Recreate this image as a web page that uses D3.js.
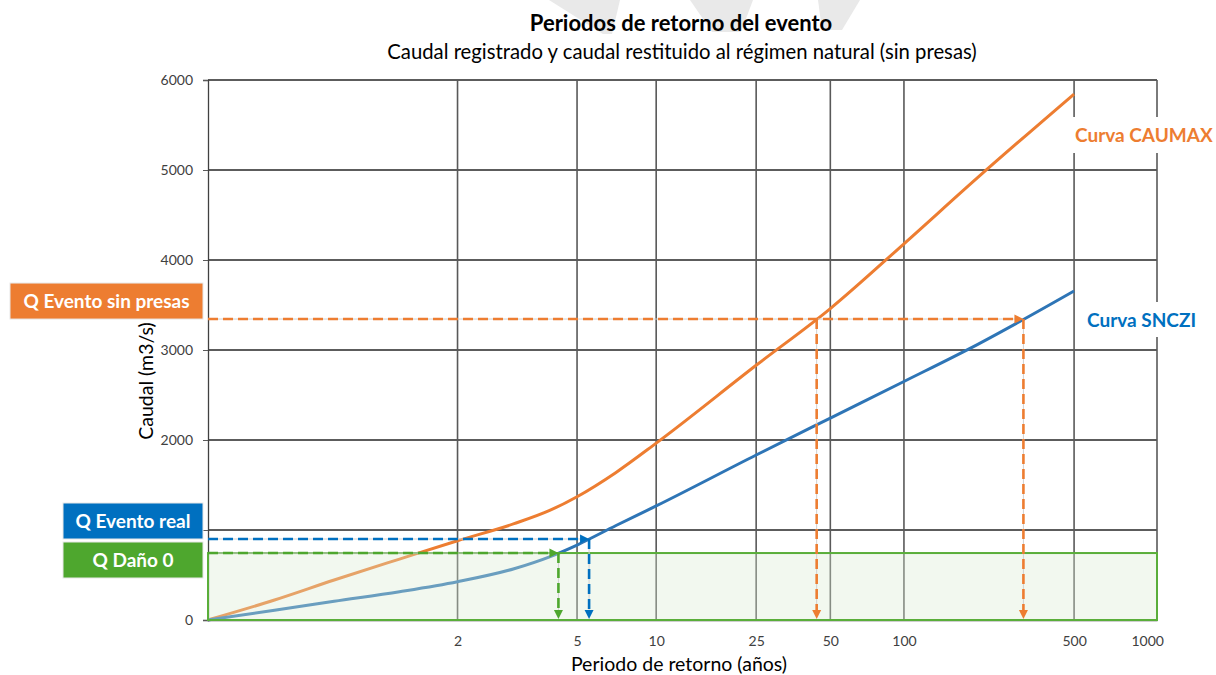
<!DOCTYPE html>
<html>
<head>
<meta charset="utf-8">
<script src="https://cdn.jsdelivr.net/npm/d3@7"></script>
<style>
  body { margin: 0; background: #fff; }
  svg { display: block; }
  text { font-family: Lato, "Open Sans", "Noto Sans", sans-serif; }
</style>
</head>
<body>
<svg id="chart" width="1216" height="675"></svg>
<script>
// Return periods (years) at which both flood-frequency curves are sampled
const returnPeriods = [1.0006, 1.02, 1.12, 1.43, 2, 3, 4, 5, 7, 10, 25, 50, 100, 200, 500];
// Peak flow (m3/s) – CAUMAX curve
const caumaxFlows = [0, 222, 444, 677, 881, 1070, 1220, 1370, 1640, 1965, 2830, 3460, 4180, 4912, 5844];
// Peak flow (m3/s) – SNCZI curve
const snczFlows = [0, 108, 208, 315, 426, 570, 705, 833, 1050, 1267, 1833, 2244, 2650, 3060, 3656];

// Axis ticks
const xTickValues = [2, 5, 10, 25, 50, 100, 500, 1000];
const xGridValues = [2, 5, 10, 25, 50, 100, 500];
const yTickValues = [0, 1000, 2000, 3000, 4000, 5000, 6000];

// Reference flows, and which curves each one is read against (0 = CAUMAX, 1 = SNCZI)
const markerLabels = ["Q Evento sin presas", "Q Evento real", "Q Daño 0"];
const markerFlows = [3344, 900, 744];
const markerCurves = [[0, 1], [1], [1]];
const markerColors = ["#ed7d31", "#0070c0", "#4ea72e"];

const curveNames = ["Curva CAUMAX", "Curva SNCZI"];
const curveColors = ["#ed7d31", "#2e75b6"];
const curveLabelColors = ["#ed7d31", "#0070c0"];

// Gumbel reduced variate: probability paper for annual maxima
const gumbel = T => -Math.log(-Math.log(1 - 1 / T));

const svg = d3.select("#chart");
const plotLeft = 208, plotRight = 1157, plotTop = 80, plotBottom = 620;

const x = d3.scaleLinear().domain([-2, 7]).range([plotLeft, plotRight]);
const y = d3.scaleLinear().domain([0, 6000]).range([plotBottom, plotTop]);
const xT = T => x(gumbel(T));

const curves = [caumaxFlows, snczFlows].map(flows =>
  returnPeriods.map((T, k) => [gumbel(T), flows[k]]));

// Reduced variate at which a curve reaches flow q (linear between samples)
function crossing(curve, q) {
  for (let k = 1; k < curve.length; k++) {
    const [g0, q0] = curve[k - 1], [g1, q1] = curve[k];
    if (q >= q0 && q <= q1) return g0 + (q - q0) / (q1 - q0) * (g1 - g0);
  }
  return curve[curve.length - 1][0];
}

// faint watermark strokes along the top edge
const wm = svg.append("g").attr("fill", "#e9e9e9");
wm.append("path").attr("d", "M549,0 L620,0 L612,34 L603,34 Z");
wm.append("path").attr("d", "M690,0 L753,0 L741,32 L712,32 Z");
wm.append("path").attr("d", "M818,0 L860,0 L842,30 L822,30 Z");

// Titles
svg.append("text").attr("x", 681).attr("y", 31).attr("text-anchor", "middle")
  .attr("font-size", 22).attr("font-weight", "bold").attr("fill", "#000")
  .text("Periodos de retorno del evento");
svg.append("text").attr("x", 682).attr("y", 59).attr("text-anchor", "middle")
  .attr("font-size", 20.3).attr("fill", "#000")
  .text("Caudal registrado y caudal restituido al régimen natural (sin presas)");

// Grid
const grid = svg.append("g");
grid.selectAll(".hg").data(yTickValues.filter(d => d > 0)).join("line")
  .attr("x1", plotLeft).attr("x2", plotRight)
  .attr("y1", d => y(d)).attr("y2", d => y(d))
  .attr("stroke", "#262626").attr("stroke-width", 1.3);
grid.selectAll(".vg").data(xGridValues).join("line")
  .attr("x1", d => xT(d)).attr("x2", d => xT(d))
  .attr("y1", plotTop).attr("y2", plotBottom)
  .attr("stroke", "#595959").attr("stroke-width", 1.6);
grid.append("line").attr("x1", plotRight).attr("x2", plotRight).attr("y1", plotTop).attr("y2", plotBottom)
  .attr("stroke", "#595959").attr("stroke-width", 1.6);

// Y axis (the 1000 label sits under the "Q Evento real" box, so it is left blank)
const yAxis = d3.axisLeft(y).tickValues(yTickValues).tickSize(5).tickPadding(10)
  .tickFormat(d => d === 1000 ? "" : d3.format("d")(d));
const yg = svg.append("g").attr("transform", `translate(${plotLeft},0)`).call(yAxis);
yg.select(".domain").attr("stroke", "#404040").attr("stroke-width", 1.3);
yg.selectAll(".tick line").attr("stroke", "#595959");
yg.selectAll(".tick text").attr("font-size", 14).attr("fill", "#404040")
  .attr("font-family", "Lato, 'Open Sans', sans-serif");

// X axis
const xAxis = d3.axisBottom(x).tickValues(xTickValues.map(gumbel)).tickSize(0).tickPadding(16)
  .tickFormat((d, i) => xTickValues[i]);
const xg = svg.append("g").attr("transform", `translate(0,${plotBottom})`).call(xAxis);
xg.select(".domain").attr("stroke", "#404040").attr("stroke-width", 1.3);
xg.selectAll(".tick text").attr("font-size", 14).attr("fill", "#404040")
  .attr("font-family", "Lato, 'Open Sans', sans-serif");

// Axis titles
svg.append("text").attr("transform", "translate(153,381) rotate(-90)")
  .attr("text-anchor", "middle").attr("font-size", 19.5).attr("fill", "#000")
  .text("Caudal (m3/s)");
svg.append("text").attr("x", 679).attr("y", 671).attr("text-anchor", "middle")
  .attr("font-size", 19.5).attr("fill", "#000")
  .text("Periodo de retorno (años)");

// Curves
const line = d3.line().x(d => x(d[0])).y(d => y(d[1])).curve(d3.curveMonotoneX);
curves.forEach((c, i) => {
  svg.append("path").datum(c)
    .attr("d", line).attr("fill", "none")
    .attr("stroke", curveColors[i]).attr("stroke-width", 3)
    .attr("stroke-linejoin", "round");
});

// Zero-damage band
svg.append("rect").attr("x", plotLeft).attr("y", y(markerFlows[2]))
  .attr("width", plotRight - plotLeft).attr("height", plotBottom - y(markerFlows[2]))
  .attr("fill", "#d9ecd0").attr("fill-opacity", 0.35)
  .attr("stroke", "#5aae3a").attr("stroke-width", 2);

// Dashed arrow helpers
function dashed(x1, y1, x2, y2, color) {
  svg.append("line").attr("x1", x1).attr("y1", y1).attr("x2", x2).attr("y2", y2)
    .attr("stroke", "#d0d0d0").attr("stroke-width", 1);
  svg.append("line").attr("x1", x1).attr("y1", y1).attr("x2", x2).attr("y2", y2)
    .attr("stroke", color).attr("stroke-width", 2.6).attr("stroke-dasharray", "10,5");
}
function arrowHead(px, py, dir, color) {
  const L = 9, W = 4.5;
  let d;
  if (dir === "right") d = `M${px},${py} L${px - L},${py - W} L${px - L},${py + W} Z`;
  else d = `M${px},${py} L${px - W},${py - L} L${px + W},${py - L} Z`;
  svg.append("path").attr("d", d).attr("fill", color);
}

markerFlows.forEach((q, i) => {
  const yy = y(q);
  const xs = markerCurves[i].map(c => x(crossing(curves[c], q)));
  const xEnd = d3.max(xs);
  const color = markerColors[i];
  dashed(plotLeft, yy, xEnd - 6, yy, color);
  arrowHead(xEnd, yy, "right", color);
  xs.forEach(xx => {
    dashed(xx, yy, xx, plotBottom - 6, color);
    arrowHead(xx, plotBottom - 1, "down", color);
  });
});

// Flow label boxes on the left
const boxes = [
  { x: 10, w: 193, y0: y(markerFlows[0]) - 36 },
  { x: 63, w: 140, y0: y(markerFlows[1]) - 36 },
  { x: 63, w: 140, y0: y(markerFlows[1]) + 3 }
];
boxes.forEach((b, i) => {
  svg.append("rect").attr("x", b.x).attr("y", b.y0).attr("width", b.w).attr("height", 36)
    .attr("fill", markerColors[i]).attr("stroke", "#e8e8e8").attr("stroke-width", 1);
  svg.append("text").attr("x", b.x + b.w / 2).attr("y", b.y0 + 25)
    .attr("text-anchor", "middle").attr("font-size", 19).attr("font-weight", "bold")
    .attr("fill", "#fff").text(markerLabels[i]);
});

// Curve labels with a white backing
const curveLabelPos = [
  { bx: 1068, by: 117, bw: 148, bh: 36, tx: 1075, ty: 142 },
  { bx: 1080, by: 302, bw: 125, bh: 35, tx: 1087, ty: 327 }
];
curveLabelPos.forEach((p, i) => {
  svg.append("rect").attr("x", p.bx).attr("y", p.by).attr("width", p.bw).attr("height", p.bh)
    .attr("fill", "#fff");
  svg.append("text").attr("x", p.tx).attr("y", p.ty).attr("font-size", 19)
    .attr("font-weight", "bold").attr("fill", curveLabelColors[i]).text(curveNames[i]);
});
</script>
</body>
</html>
